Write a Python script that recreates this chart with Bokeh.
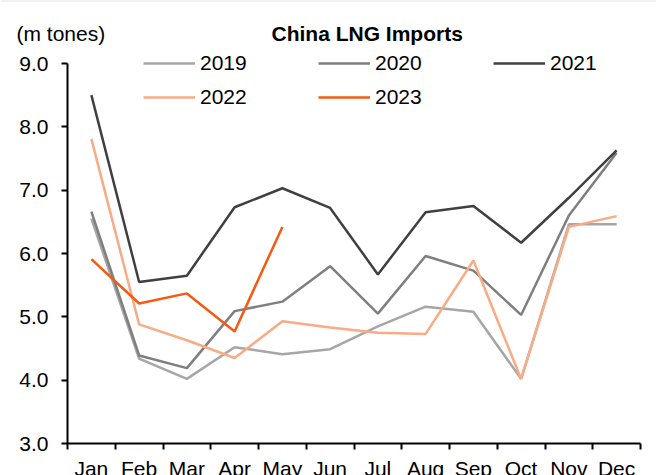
from bokeh.plotting import figure
from bokeh.models import (Range1d, FixedTicker, Legend, LegendItem, Label,
                          PrintfTickFormatter)
from bokeh.embed import file_html
from bokeh.resources import INLINE

# ---- data ----
months = ["Jan", "Feb", "Mar", "Apr", "May", "Jun", "Jul", "Aug", "Sep", "Oct", "Nov", "Dec"]
years = ["2019", "2020", "2021", "2022", "2023"]
v2019 = [6.55, 4.34, 4.02, 4.52, 4.41, 4.49, 4.85, 5.16, 5.08, 4.02, 6.46, 6.46]
v2020 = [6.66, 4.39, 4.19, 5.09, 5.24, 5.80, 5.05, 5.96, 5.73, 5.03, 6.60, 7.59]
v2021 = [8.50, 5.55, 5.65, 6.73, 7.03, 6.72, 5.67, 6.65, 6.75, 6.17, 6.88, 7.63]
v2022 = [7.81, 4.88, 4.63, 4.35, 4.93, 4.83, 4.75, 4.73, 5.89, 4.02, 6.42, 6.59]
v2023 = [5.91, 5.21, 5.37, 4.77, 6.42]
y_ticks = [3, 4, 5, 6, 7, 8, 9]
title_text = "China LNG Imports"
unit_text = "(m tones)"

colors = ["#a6a6a6", "#7f7f7f", "#404040", "#f9ab85", "#f65a10"]
FONT = "Liberation Sans"
FS = "21px"

# ---- layout: the frame fills the canvas; axes are fixed inside it ----
W, H = 656, 475
AX_L, AX_R, AX_T, AX_B = 67, 640, 63, 443   # pixel box of the axes area
TOP_STRIP = 1
n = len(months)
ymin, ymax = y_ticks[0], y_ticks[-1]
xs_scale = (AX_R - AX_L) / n
ys_scale = (AX_B - AX_T) / (ymax - ymin)
x_range = Range1d(0 - AX_L / xs_scale, n + (W - AX_R) / xs_scale)
y_range = Range1d(ymin - (H - AX_B) / ys_scale, ymax + (AX_T - TOP_STRIP) / ys_scale)

p = figure(width=W, height=H, output_backend="svg", toolbar_location=None,
           x_range=x_range, y_range=y_range,
           min_border_left=0, min_border_right=0, min_border_top=TOP_STRIP, min_border_bottom=0)
p.title.visible = False
p.outline_line_color = None
p.grid.visible = False
p.background_fill_color = "white"
p.border_fill_color = "#c8c8c8"

xs = [i + 0.5 for i in range(n)]

series = [v2019, v2020, v2021, v2022, v2023]
renderers = []
for yr, vals, c in zip(years, series, colors):
    r = p.line(xs[:len(vals)], vals, line_color=c, line_width=2.5)
    renderers.append(r)

# y axis
yax = p.yaxis[0]
yax.fixed_location = 0
yax.bounds = (ymin, ymax)
yax.ticker = FixedTicker(ticks=y_ticks)
yax.formatter = PrintfTickFormatter(format="%.1f")
yax.axis_line_width = 2
yax.axis_line_color = "black"
yax.major_tick_line_width = 2
yax.major_tick_line_color = "black"
yax.major_tick_out = 6
yax.major_tick_in = 0
yax.minor_tick_out = 0
yax.minor_tick_in = 0
yax.major_label_text_font = FONT
yax.major_label_text_font_size = FS
yax.major_label_text_color = "black"
yax.major_label_standoff = 13

# x axis: labels at month centres, tick marks at month boundaries
xax = p.xaxis[0]
xax.fixed_location = ymin
xax.bounds = (0, n)
xax.ticker = FixedTicker(ticks=xs, minor_ticks=list(range(n + 1)))
xax.major_label_overrides = {x: m for x, m in zip(xs, months)}
xax.axis_line_width = 2
xax.axis_line_color = "black"
xax.major_tick_out = 0
xax.major_tick_in = 0
xax.minor_tick_line_width = 2
xax.minor_tick_line_color = "black"
xax.minor_tick_out = 6
xax.minor_tick_in = 0
xax.major_label_text_font = FONT
xax.major_label_text_font_size = FS
xax.major_label_text_color = "black"
xax.major_label_standoff = 7

# titles
p.add_layout(Label(x=271, y=H - 33, x_units="screen", y_units="screen", text=title_text,
                   text_font=FONT, text_font_size=FS, text_font_style="bold",
                   text_color="black", text_baseline="alphabetic"))
p.add_layout(Label(x=16, y=H - 33, x_units="screen", y_units="screen", text=unit_text,
                   text_font=FONT, text_font_size=FS,
                   text_color="black", text_baseline="alphabetic"))

legend = Legend(items=[LegendItem(label=yr, renderers=[r]) for yr, r in zip(years, renderers)],
                location=(143, H - 114), orientation="horizontal", ncols=3,
                glyph_width=52, glyph_height=34, label_width=118, label_height=34,
                label_standoff=5, spacing=0, padding=0, margin=0,
                border_line_color=None, background_fill_alpha=0,
                label_text_font=FONT, label_text_font_size=FS, label_text_color="black")
p.add_layout(legend)

open("out.html", "w").write(file_html(p, INLINE))
